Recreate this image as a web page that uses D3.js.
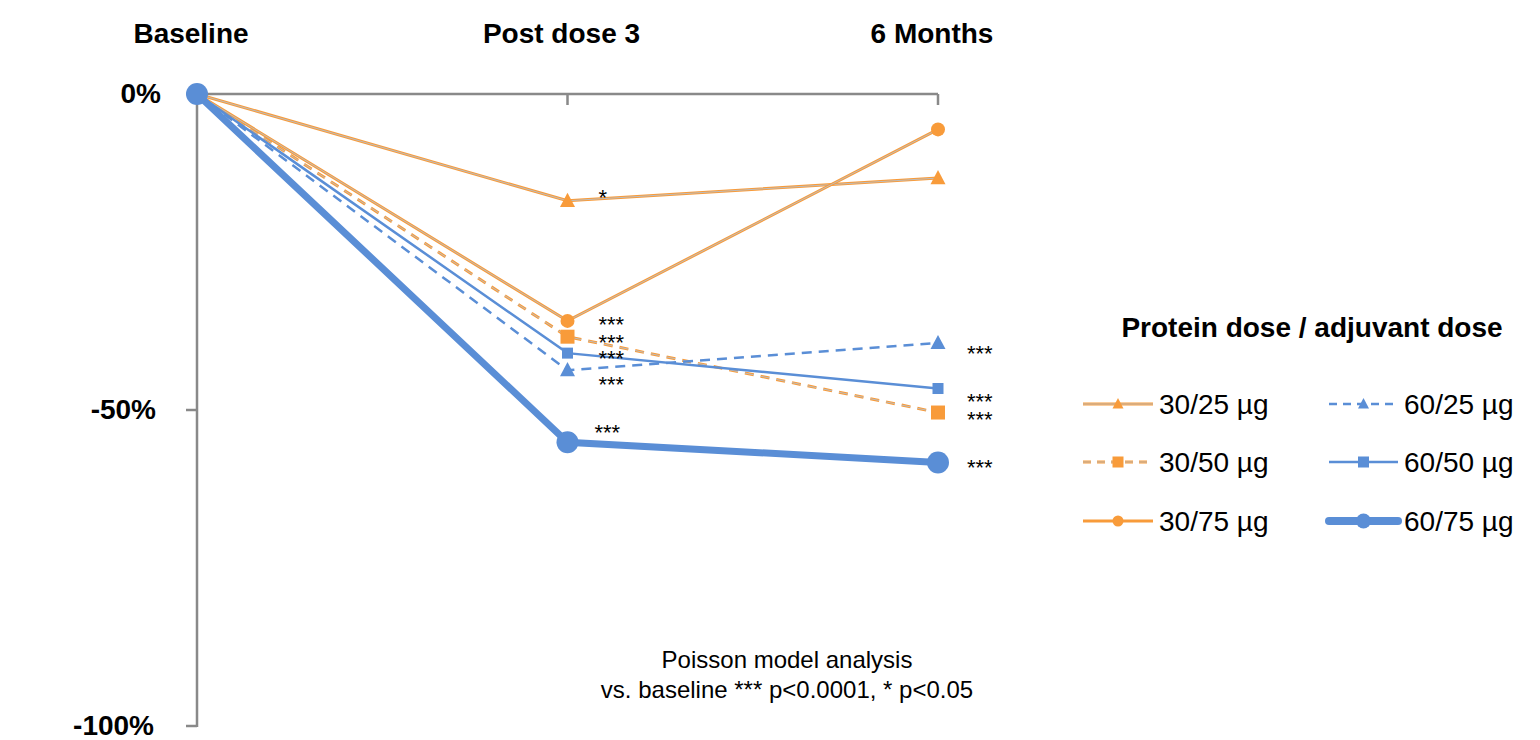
<!DOCTYPE html>
<html>
<head>
<meta charset="utf-8">
<script src="https://cdn.jsdelivr.net/npm/d3@7"></script>
<style>
  body { margin: 0; background: #fff; }
  svg { font-family: Arial, "Liberation Sans", sans-serif; }
</style>
</head>
<body>
<svg id="chart" width="1540" height="740"></svg>
<script>
// time points and y ticks
let timepoints = ["Baseline", "Post dose 3", "6 Months"];
let yTicks = [0, -50, -100];

// series names (protein dose / adjuvant dose) and % change from baseline
let seriesNames = ["30/25 µg", "30/50 µg", "30/75 µg", "60/25 µg", "60/50 µg", "60/75 µg"];
let values30_25 = [0, -16.9, -13.3];
let values30_50 = [0, -38.4, -50.4];
let values30_75 = [0, -35.9, -5.6];
let values60_25 = [0, -43.7, -39.4];
let values60_50 = [0, -41.0, -46.6];
let values60_75 = [0, -55.1, -58.3];

// significance labels per point
let sig30_25 = ["", "*", ""];
let sig30_50 = ["", "***", "***"];
let sig30_75 = ["", "***", ""];
let sig60_25 = ["", "***", "***"];
let sig60_50 = ["", "***", "***"];
let sig60_75 = ["", "***", "***"];

let orange = "#F89B3A";
let blue = "#5A8ED6";

// look of each series
let styles = [
    { color: orange, dash: null, marker: "triangle", size: 15, width: 3, core: true },
    { color: orange, dash: "9,7", marker: "square", size: 14, width: 3, core: true },
    { color: orange, dash: null, marker: "circle", size: 14, width: 3, core: true },
    { color: blue, dash: "10,7", marker: "triangle", size: 15, width: 2.5, core: false },
    { color: blue, dash: null, marker: "square", size: 11, width: 2.5, core: false },
    { color: blue, dash: null, marker: "circle", size: 22, width: 7, core: false }
];
// vertical nudges for asterisks, [post dose 3, 6 months]
let sigNudge = [[-8, 0], [1, 2], [-1, 0], [10, 6], [1, 8], [-14, 1]];

let allValues = [values30_25, values30_50, values30_75, values60_25, values60_50, values60_75];
let allSig = [sig30_25, sig30_50, sig30_75, sig60_25, sig60_50, sig60_75];

let svg = d3.select("#chart");

let x = d3.scalePoint().domain(timepoints).range([197, 938]);
let y = d3.scaleLinear().domain([-100, 0]).range([726, 94]);

let axisColor = "#898989";

// top axis line with ticks pointing down
svg.append("line")
    .attr("x1", x("Baseline")).attr("x2", x("6 Months"))
    .attr("y1", y(0)).attr("y2", y(0))
    .attr("stroke", axisColor).attr("stroke-width", 2.5);
svg.selectAll(".xtick")
    .data(timepoints.slice(1))
    .enter().append("line")
    .attr("x1", d => x(d)).attr("x2", d => x(d))
    .attr("y1", y(0)).attr("y2", y(0) + 11)
    .attr("stroke", axisColor).attr("stroke-width", 2.5);

// category labels on top
svg.selectAll(".cat")
    .data(timepoints)
    .enter().append("text")
    .attr("x", d => x(d) - 6)
    .attr("y", 43)
    .attr("text-anchor", "middle")
    .attr("font-size", 28).attr("font-weight", "bold")
    .text(d => d);

// y axis
svg.append("line")
    .attr("x1", x("Baseline")).attr("x2", x("Baseline"))
    .attr("y1", y(0)).attr("y2", y(-100) + 1)
    .attr("stroke", axisColor).attr("stroke-width", 2.5);
svg.selectAll(".ytick")
    .data(yTicks)
    .enter().append("line")
    .attr("x1", x("Baseline") - 11).attr("x2", x("Baseline"))
    .attr("y1", d => y(d)).attr("y2", d => y(d))
    .attr("stroke", axisColor).attr("stroke-width", 2.5);
svg.selectAll(".ylab")
    .data(yTicks)
    .enter().append("text")
    .attr("x", d => d === 0 ? 161 : (d === -50 ? 156 : 154))
    .attr("y", d => y(d) + 9)
    .attr("text-anchor", "end")
    .attr("font-size", 28).attr("font-weight", "bold")
    .text(d => d + "%");

let line = d3.line().x((d, i) => x(timepoints[i])).y(d => y(d));

function drawMarker(g, type, size, color, cx, cy) {
    if (type === "circle") {
        g.append("circle").attr("cx", cx).attr("cy", cy).attr("r", size / 2).attr("fill", color);
    } else if (type === "square") {
        g.append("rect").attr("x", cx - size / 2).attr("y", cy - size / 2)
            .attr("width", size).attr("height", size).attr("fill", color);
    } else {
        let h = size * 0.9;
        g.append("path")
            .attr("d", `M${cx},${cy - h * 0.6}L${cx + size / 2},${cy + h * 0.45}L${cx - size / 2},${cy + h * 0.45}Z`)
            .attr("fill", color);
    }
}

// series lines and markers
allValues.forEach((vals, s) => {
    let st = styles[s];
    let g = svg.append("g");
    g.append("path")
        .attr("d", line(vals))
        .attr("fill", "none")
        .attr("stroke", st.color)
        .attr("stroke-width", st.width)
        .attr("stroke-dasharray", st.dash);
    if (st.core) {
        g.append("path")
            .attr("d", line(vals))
            .attr("fill", "none")
            .attr("stroke", "#bdbdbd")
            .attr("stroke-width", 1)
            .attr("stroke-dasharray", st.dash);
    }
    vals.forEach((v, i) => {
        if (i === 0 && s !== allValues.length - 1) return;
        drawMarker(g, st.marker, st.size, st.color, x(timepoints[i]), y(v));
    });
});

// significance asterisks
allSig.forEach((sig, s) => {
    sig.forEach((label, i) => {
        if (!label) return;
        let off = i === 1 ? 31 : 29;
        if (s === 5 && i === 1) off = 27;
        svg.append("text")
            .attr("x", x(timepoints[i]) + off)
            .attr("y", y(allValues[s][i]) + sigNudge[s][i - 1] + 12)
            .attr("font-size", 22)
            .text(label);
    });
});

// legend
svg.append("text")
    .attr("x", 1312).attr("y", 337)
    .attr("text-anchor", "middle")
    .attr("font-size", 28).attr("font-weight", "bold")
    .text("Protein dose / adjuvant dose");

let legendRows = [404, 462, 521];
seriesNames.forEach((name, s) => {
    let st = styles[s];
    let col = s < 3 ? 0 : 1;
    let row = s % 3;
    let x0 = col === 0 ? 1083 : 1329;
    let x1 = col === 0 ? 1153 : 1398;
    let ly = legendRows[row];
    let g = svg.append("g");
    g.append("line")
        .attr("x1", x0).attr("x2", x1).attr("y1", ly).attr("y2", ly)
        .attr("stroke", st.color)
        .attr("stroke-width", s === 5 ? 8 : st.width)
        .attr("stroke-linecap", s === 5 ? "round" : "butt")
        .attr("stroke-dasharray", st.dash ? "8,6" : null);
    if (st.core && s !== 2) {
        g.append("line")
            .attr("x1", x0).attr("x2", x1).attr("y1", ly).attr("y2", ly)
            .attr("stroke", "#bdbdbd").attr("stroke-width", 1)
            .attr("stroke-dasharray", st.dash ? "8,6" : null);
    }
    let msize = s === 5 ? 15 : 11;
    drawMarker(g, st.marker, msize, st.color, (x0 + x1) / 2, ly);
    g.append("text")
        .attr("x", col === 0 ? 1159 : 1404)
        .attr("y", ly + 10)
        .attr("font-size", 28)
        .text(name);
});

// footnote
svg.append("text")
    .attr("x", 787).attr("y", 668)
    .attr("text-anchor", "middle").attr("font-size", 24)
    .text("Poisson model analysis");
svg.append("text")
    .attr("x", 787).attr("y", 698)
    .attr("text-anchor", "middle").attr("font-size", 24)
    .text("vs. baseline *** p<0.0001, * p<0.05");
</script>
</body>
</html>
